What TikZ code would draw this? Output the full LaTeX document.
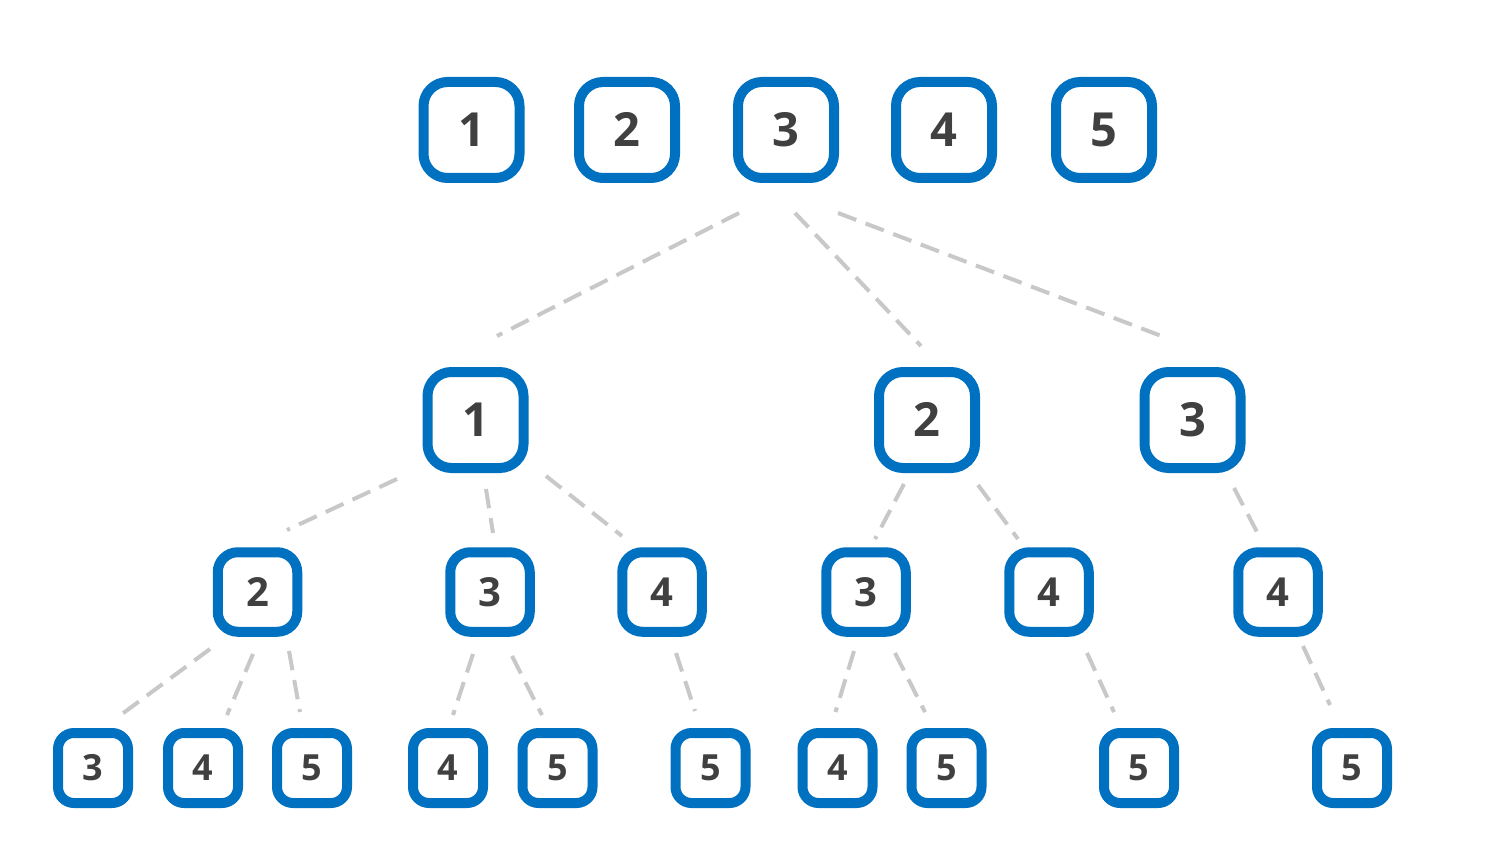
\documentclass[tikz,border=0pt]{standalone}
\usepackage{fontspec}
\setmainfont{Open Sans}
\definecolor{boxblue}{HTML}{0070C0}
\definecolor{txtgray}{HTML}{404040}
\definecolor{lgray}{HTML}{C8C8C8}
\tikzset{
  bx/.style={draw=boxblue, line width=10pt, rounded corners=#1, fill=white, text=txtgray, inner sep=0pt, text depth=0pt},
  lvA/.style={bx=24pt, minimum size=96pt, font=\fontsize{47}{47}\selectfont\bfseries, text height=33.6pt},
  lvB/.style={bx=20pt, minimum size=79.5pt, font=\fontsize{40}{40}\selectfont\bfseries, text height=28.6pt},
  lvC/.style={bx=16pt, minimum size=70pt, font=\fontsize{36}{36}\selectfont\bfseries, text height=25.7pt},
  conn/.style={draw=lgray, line width=4pt, dash pattern=on 19.5pt off 10pt},
}
\begin{document}
\begin{tikzpicture}[x=1pt,y=-1pt]
\useasboundingbox (0,0) rectangle (1490,842);
% top row
\node[lvA] (t1) at (471.5,130) {1};
\node[lvA] (t2) at (627,130) {2};
\node[lvA] (t3) at (786,130) {3};
\node[lvA] (t4) at (944,130) {4};
\node[lvA] (t5) at (1104,130) {5};
% level 1
\node[lvA] (a1) at (475.5,420) {1};
\node[lvA] (a2) at (927,420) {2};
\node[lvA] (a3) at (1192.5,420) {3};
% level 2
\node[lvB] (b1) at (257.5,592) {2};
\node[lvB] (b2) at (490,592) {3};
\node[lvB] (b3) at (662,592) {4};
\node[lvB] (b4) at (866,592) {3};
\node[lvB] (b5) at (1049,592) {4};
\node[lvB] (b6) at (1278,592) {4};
% level 3
\node[lvC] (c1) at (93,768) {3};
\node[lvC] (c2) at (203,768) {4};
\node[lvC] (c3) at (312,768) {5};
\node[lvC] (c4) at (448,768) {4};
\node[lvC] (c5) at (557.5,768) {5};
\node[lvC] (c6) at (710.5,768) {5};
\node[lvC] (c7) at (837.5,768) {4};
\node[lvC] (c8) at (946.5,768) {5};
\node[lvC] (c9) at (1139,768) {5};
\node[lvC] (c10) at (1352,768) {5};
% connector end points
\coordinate (p1s) at (739,213);  \coordinate (p1e) at (497,336);
\coordinate (p2s) at (795,213);  \coordinate (p2e) at (921,346);
\coordinate (p3s) at (838,213);  \coordinate (p3e) at (1164,337);
\coordinate (q1s) at (397,479);  \coordinate (q1e) at (287,530);
\coordinate (q2s) at (486,489);  \coordinate (q2e) at (493,533);
\coordinate (q3s) at (546,476);  \coordinate (q3e) at (622,536);
\coordinate (q4s) at (904,484);  \coordinate (q4e) at (875,539);
\coordinate (q5s) at (978,485);  \coordinate (q5e) at (1018,539);
\coordinate (q6s) at (1234,488); \coordinate (q6e) at (1257,532);
\coordinate (r1s) at (210,649);  \coordinate (r1e) at (122,714);
\coordinate (r2s) at (253,654);  \coordinate (r2e) at (227,715);
\coordinate (r3s) at (289,651);  \coordinate (r3e) at (300,712);
\coordinate (r4s) at (473,654);  \coordinate (r4e) at (453,715);
\coordinate (r5s) at (512,656);  \coordinate (r5e) at (542,715);
\coordinate (r6s) at (676,653);  \coordinate (r6e) at (695,711);
\coordinate (r7s) at (854,651);  \coordinate (r7e) at (835.5,712);
\coordinate (r8s) at (895,653);  \coordinate (r8e) at (925,712);
\coordinate (r9s) at (1087,653); \coordinate (r9e) at (1114,712);
\coordinate (r10s) at (1303,646); \coordinate (r10e) at (1330,705);
\foreach \n in {p1,p2,p3,q1,q2,q3,q4,q5,q6,r1,r2,r3,r4,r5,r6,r7,r8,r9,r10}
  \draw[conn] (\n s) -- (\n e);
\end{tikzpicture}
\end{document}
